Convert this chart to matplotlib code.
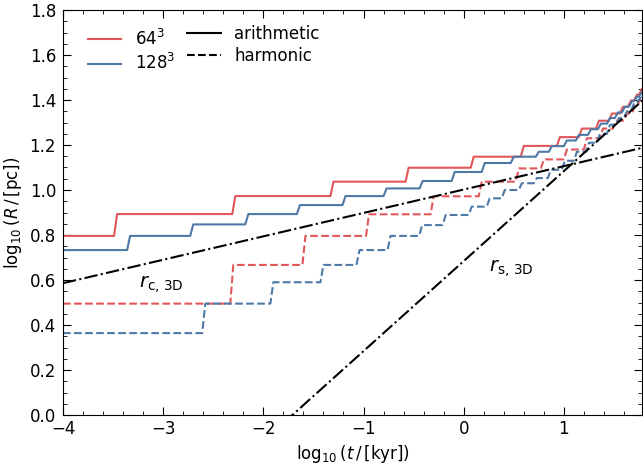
import numpy as np
import matplotlib
matplotlib.use("Agg")
import matplotlib.pyplot as plt
from matplotlib.lines import Line2D
from matplotlib.ticker import MultipleLocator

# log10(t/kyr) where each radius jumps, and the log10(R/pc) levels (one more level than jumps)
t_ari_64 = [-3.49, -2.31, -1.33, -0.58, 0.07, 0.57, 0.93, 1.15, 1.32, 1.45, 1.56, 1.64, 1.70, 1.75]
R_ari_64 = [0.796, 0.893, 0.973, 1.037, 1.099, 1.148, 1.196, 1.235, 1.273, 1.308, 1.340, 1.370, 1.398,
            1.424, 1.449]

t_ari_128 = [-3.36, -2.73, -2.18, -1.665, -1.21, -0.80, -0.44, -0.12, 0.18, 0.47, 0.72, 0.85,
             1.00, 1.12, 1.24, 1.34, 1.43, 1.51, 1.58, 1.65, 1.70, 1.75]
R_ari_128 = [0.733, 0.796, 0.847, 0.893, 0.933, 0.973, 1.007, 1.040, 1.080, 1.120, 1.148, 1.170,
             1.195, 1.220, 1.245, 1.270, 1.295, 1.320, 1.345, 1.370, 1.395, 1.415, 1.435]

t_har_64 = [-2.33, -1.61, -0.975, -0.33, 0.15, 0.52, 0.77, 1.00, 1.20, 1.36, 1.49, 1.60, 1.68, 1.74]
R_har_64 = [0.495, 0.667, 0.796, 0.892, 0.972, 1.037, 1.096, 1.136, 1.180, 1.230, 1.273, 1.308, 1.340,
            1.380, 1.420]

t_har_128 = [-2.61, -1.93, -1.43, -1.07, -0.76, -0.445, -0.21, 0.05, 0.23, 0.38, 0.55, 0.70,
             0.84, 0.98, 1.10, 1.22, 1.33, 1.43, 1.52, 1.60, 1.67, 1.73]
R_har_128 = [0.364, 0.495, 0.590, 0.667, 0.733, 0.796, 0.844, 0.889, 0.926, 0.963, 1.000, 1.030,
             1.053, 1.090, 1.130, 1.170, 1.210, 1.250, 1.290, 1.320, 1.350, 1.385, 1.410]

# analytic radii: log10 R = a + b * log10 t
rc_coef = (1.002, 0.104)
rs_coef = (0.684, 0.4)

t_min, t_max = -4.0, 1.78
red = "#e15759"
blue = "#4e79a7"


def staircase(jumps, levels, ramp=0.03):
    xs, ys = [t_min], [levels[0]]
    for i, tj in enumerate(jumps):
        xs += [tj, tj + ramp]
        ys += [levels[i], levels[i + 1]]
    xs.append(t_max)
    ys.append(levels[-1])
    return xs, ys


fig = plt.figure(figsize=(6.43, 4.66), dpi=100)
ax = fig.add_axes([63 / 643, 51 / 466, 579 / 643, 405 / 466])

for jumps, levels, c, ls in [(t_ari_64, R_ari_64, red, "-"),
                             (t_ari_128, R_ari_128, blue, "-"),
                             (t_har_64, R_har_64, red, "--"),
                             (t_har_128, R_har_128, blue, "--")]:
    x, y = staircase(jumps, levels)
    ax.plot(x, y, color=c, ls=ls, lw=1.5)

tt = np.linspace(t_min, t_max, 200)
ax.plot(tt, rc_coef[0] + rc_coef[1] * tt, color="k", ls="-.", lw=1.5)
ax.plot(tt, rs_coef[0] + rs_coef[1] * tt, color="k", ls="-.", lw=1.5)

ax.text(-3.02, 0.578, r"$r_\mathrm{c,\,3D}$", fontsize=14, ha="center", va="center")
ax.text(0.47, 0.65, r"$r_\mathrm{s,\,3D}$", fontsize=14, ha="center", va="center")

ax.set_xlim(t_min, t_max)
ax.set_ylim(0, 1.8)
ax.xaxis.set_major_locator(MultipleLocator(1))
ax.xaxis.set_minor_locator(MultipleLocator(0.2))
ax.yaxis.set_major_locator(MultipleLocator(0.2))
ax.yaxis.set_minor_locator(MultipleLocator(0.05))
ax.tick_params(which="both", direction="in", top=True, right=True, labelsize=12)
ax.tick_params(which="major", length=6)
ax.tick_params(which="minor", length=3)
ax.tick_params(axis="y", pad=5)
ax.set_xlabel(r"$\log_{10}(t\,/\,[\mathrm{kyr}])$", fontsize=12)
ax.set_ylabel(r"$\log_{10}(R\,/\,[\mathrm{pc}])$", fontsize=12)

res_handles = [Line2D([], [], color=red, lw=1.5), Line2D([], [], color=blue, lw=1.5)]
leg1 = ax.legend(res_handles, [r"$64^3$", r"$128^3$"], loc="upper left",
                 bbox_to_anchor=(0.017, 0.99), frameon=False, fontsize=12, labelspacing=0.25)
ax.add_artist(leg1)
mean_handles = [Line2D([], [], color="k", lw=1.5), Line2D([], [], color="k", ls="--", lw=1.5)]
ax.legend(mean_handles, ["arithmetic", "harmonic"], loc="upper left",
          bbox_to_anchor=(0.189, 1.0), frameon=False, fontsize=12, labelspacing=0.25)

fig.savefig("out.png", dpi=100)
